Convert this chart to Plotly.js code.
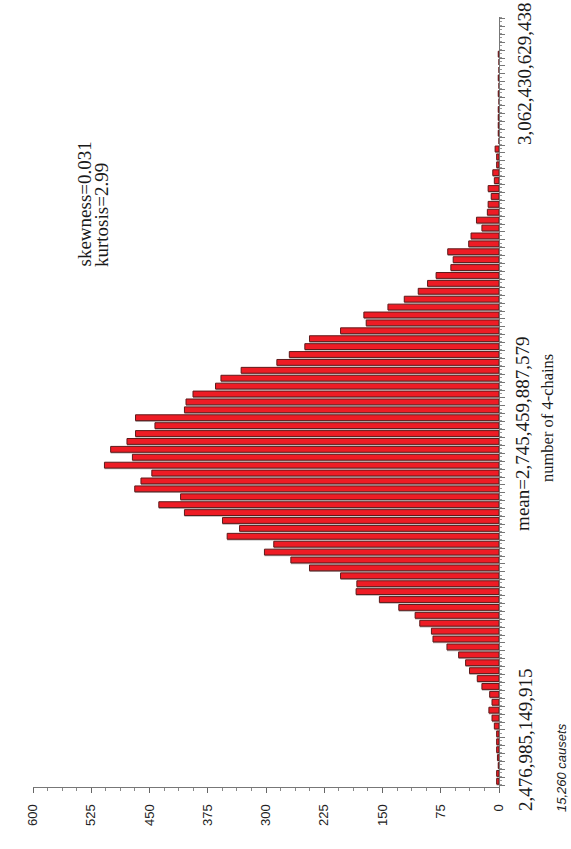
<!DOCTYPE html>
<html>
<head>
<meta charset="utf-8">
<script src="https://cdn.plot.ly/plotly-3.0.1.min.js"></script>
<style>
  html, body { margin: 0; padding: 0; background: #fff; }
  #hist { width: 571px; height: 849px; }
</style>
</head>
<body>
<div id="hist"></div>
<script>
// number of causets per bin, from the lowest 4-chain count (bottom) to the highest (top)
var binCounts = [
  3, 3, 1, 2, 3, 3, 3, 6, 9, 13, 9, 12, 22, 28, 38, 43, 52, 67,
  85, 87, 102, 108, 129, 154, 184, 183, 204, 244, 268, 302, 290, 350, 334, 356,
  405, 438, 410, 469, 461, 447, 508, 472, 500, 479, 468, 443, 468, 405, 403, 394,
  365, 358, 332, 286, 270, 250, 244, 204, 171, 174, 143, 122, 104, 92, 81, 62,
  59, 66, 39, 36, 22, 29, 15, 14, 10, 14, 6, 8, 3, 3, 5,
  0, 1, 1, 1, 1, 0, 1, 0, 1, 0, 0, 1
];

var chainMin = 2476985149915;
var chainMax = 3062430629438;
var chainMean = 2745459887579;
var binWidth = 6.0095e9;
var firstCenter = chainMin + 4.334e9;

var countTicks = [0, 75, 150, 225, 300, 375, 450, 525, 600];

var binCenters = binCounts.map((c, i) => firstCenter + i * binWidth);

// plot box in pixels, used to place the free texts
var L = 33, R = 499, T = 17, B = 787;
function px(x) { return (x - L) / (R - L); }
function py(y) { return (B - y) / (B - T); }

var barW = binWidth * 0.74;
// one pixel along the 4-chain axis, for the little drop shadow
var onePx = (chainMax - chainMin) / (B - T);

var shadow = {
  type: "bar",
  orientation: "h",
  x: binCounts,
  y: binCenters,
  width: barW,
  offset: -barW / 2 - 1.3 * onePx,
  marker: { color: "#b4b4b4", line: { width: 0 } },
  hoverinfo: "skip"
};

var trace = {
  type: "bar",
  orientation: "h",
  x: binCounts,
  y: binCenters,
  width: barW,
  offset: -barW / 2,
  marker: { color: "#ee1c25", line: { color: "#5e1b1b", width: 1 } },
  hoverinfo: "x+y"
};

var serif = "Liberation Serif, Times New Roman, serif";
var sans = "Liberation Sans, Arial, sans-serif";

function label(text, x, y, size, extra) {
  var a = {
    text: text, xref: "paper", yref: "paper", x: px(x), y: py(y),
    xanchor: "center", yanchor: "middle",
    textangle: -90, showarrow: false, borderpad: 0,
    font: { family: serif, size: size, color: "#1a1a1a" }
  };
  return Object.assign(a, extra || {});
}

var layout = {
  width: 571,
  height: 849,
  margin: { l: L, r: 571 - R, t: T, b: 849 - B },
  paper_bgcolor: "#fff",
  plot_bgcolor: "#fff",
  showlegend: false,
  barmode: "overlay",
  xaxis: {
    range: [600, 0],
    tickvals: countTicks,
    tickangle: -90,
    ticks: "outside",
    ticklen: 5,
    tickcolor: "#666",
    ticklabelstandoff: 6,
    showline: true,
    linecolor: "#777",
    linewidth: 1,
    showgrid: false,
    zeroline: false,
    minor: { dtick: 18.75, ticks: "outside", ticklen: 3, tickcolor: "#888" },
    tickfont: { family: sans, size: 13, color: "#222" }
  },
  yaxis: {
    range: [chainMin, chainMax],
    side: "right",
    showline: true,
    linecolor: "#777",
    linewidth: 1,
    showgrid: false,
    zeroline: false,
    showticklabels: false,
    ticks: "outside",
    tick0: firstCenter - binWidth / 2,
    dtick: binWidth,
    ticklen: 5,
    tickcolor: "#777",
    minor: { dtick: binWidth / 2, ticks: "outside", ticklen: 2, tickcolor: "#999" }
  },
  annotations: [
    label("3,062,430,629,438", 525, 74, 19),
    label("mean=2,745,459,887,579", 523, 0, 19, { yref: "y", y: chainMean }),
    label("number of 4-chains", 547, 418, 16.5),
    label("2,476,985,149,915", 525, 740, 19),
    label("<i>15,260 causets</i>", 561, 768, 13, { font: { family: sans, size: 13, color: "#1a1a1a" } }),
    label("skewness=0.031", 84, 268, 19, { yanchor: "bottom" }),
    label("kurtosis=2.99", 101, 268, 19, { yanchor: "bottom" })
  ]
};

Plotly.newPlot("hist", [shadow, trace], layout, { displayModeBar: false, staticPlot: true });
</script>
</body>
</html>
